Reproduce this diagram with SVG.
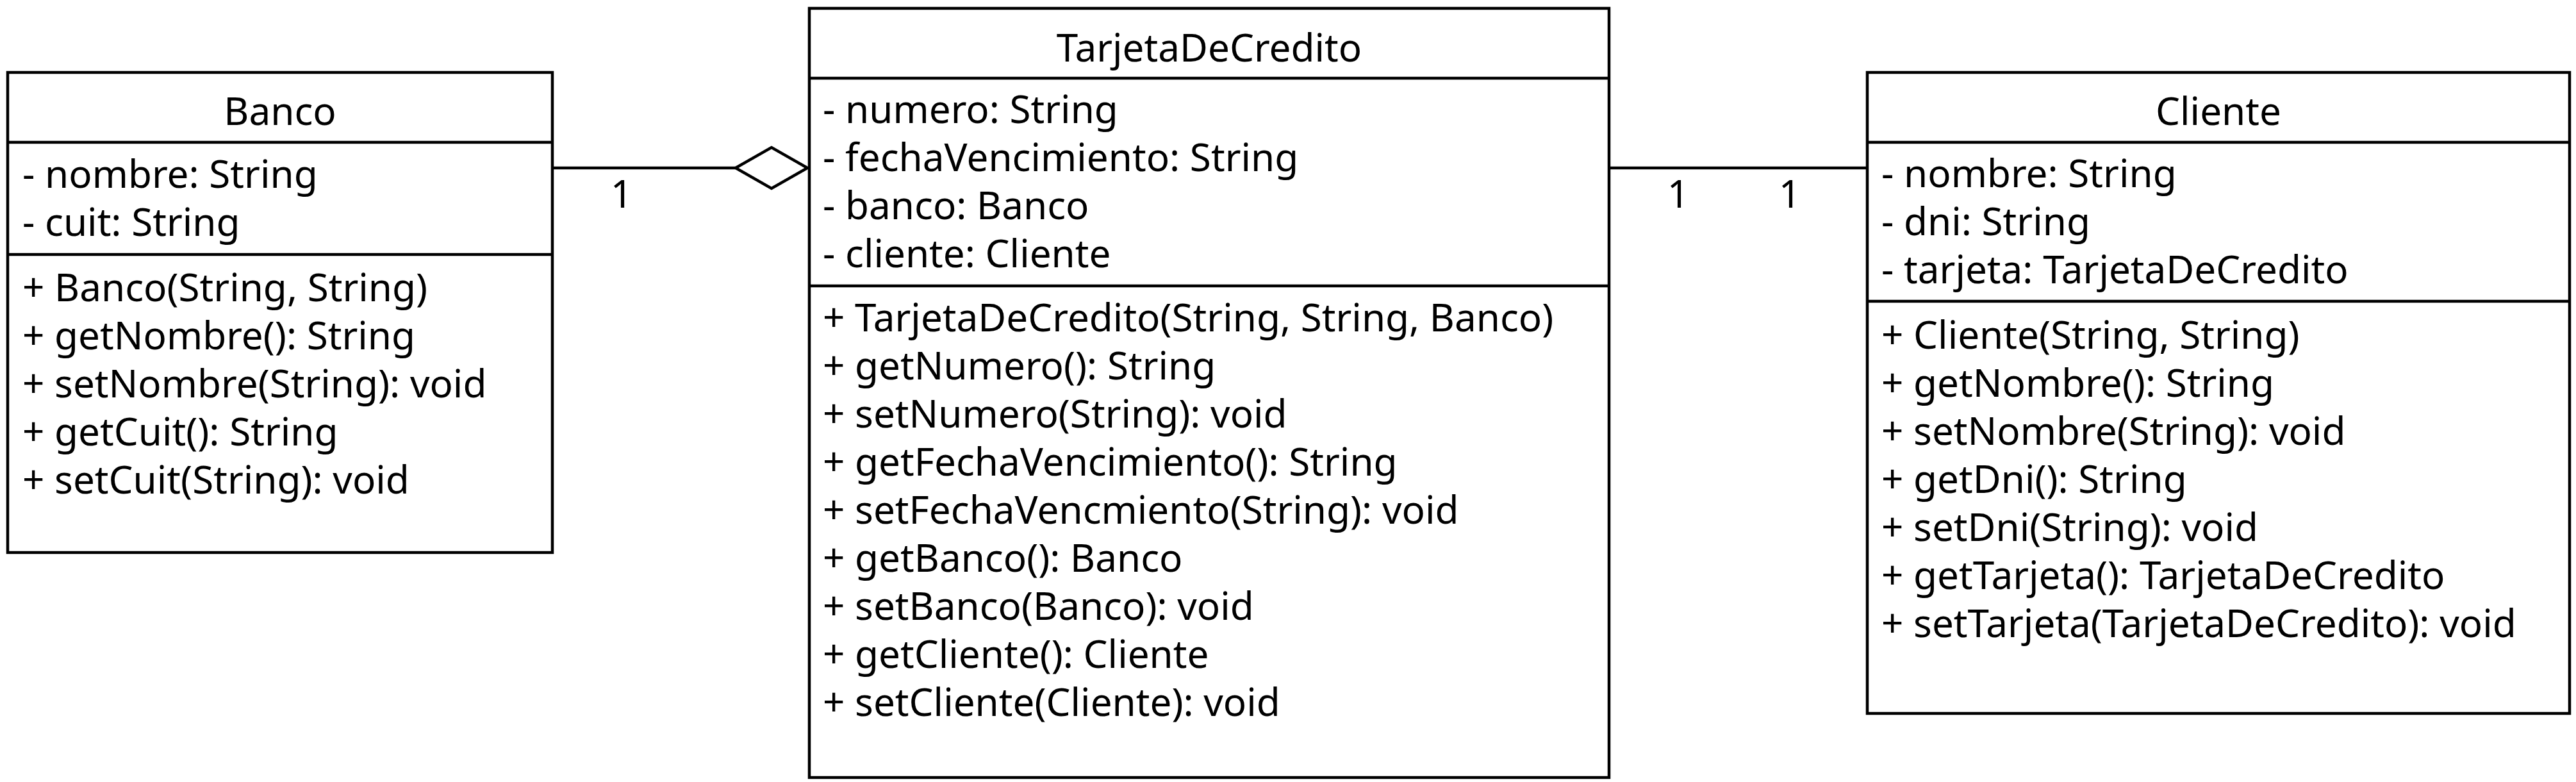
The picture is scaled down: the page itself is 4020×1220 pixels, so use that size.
<svg xmlns="http://www.w3.org/2000/svg" width="4020" height="1220" viewBox="0 0 4020 1220">
<style>
.box{fill:#fff;stroke:#000;stroke-width:4.5}
.div{stroke:#000;stroke-width:4.5}
.t{font-family:"Noto Sans",sans-serif;font-size:60.2px;fill:#000}
.c{text-anchor:middle}
.edge{stroke:#000;stroke-width:4.5;fill:none}
.dia{fill:#fff;stroke:#000;stroke-width:4.5;stroke-linejoin:miter}
</style>
<rect width="4020" height="1220" fill="#fff"/>
<g id="connectors">
<line class="edge" x1="862" y1="262" x2="1148" y2="262"/>
<polygon class="dia" points="1148,262 1204,230 1260,262 1204,294"/>
<line class="edge" x1="2511" y1="262" x2="2914" y2="262"/>
<text class="t c" x="970" y="324">1</text>
<text class="t c" x="2619" y="324">1</text>
<text class="t c" x="2793" y="324">1</text>
</g>
<g id="Banco">
<rect class="box" x="12" y="113" width="850" height="749"/>
<line class="div" x1="12" y1="222" x2="862" y2="222"/>
<line class="div" x1="12" y1="397" x2="862" y2="397"/>
<text class="t c" x="437" y="195">Banco</text>
<text class="t" x="35" y="293">- nombre: String</text>
<text class="t" x="35" y="368">- cuit: String</text>
<text class="t" x="35" y="470">+ Banco(String, String)</text>
<text class="t" x="35" y="545">+ getNombre(): String</text>
<text class="t" x="35" y="620">+ setNombre(String): void</text>
<text class="t" x="35" y="695">+ getCuit(): String</text>
<text class="t" x="35" y="770">+ setCuit(String): void</text>
</g>
<g id="TarjetaDeCredito">
<rect class="box" x="1263" y="13" width="1248" height="1200"/>
<line class="div" x1="1263" y1="122" x2="2511" y2="122"/>
<line class="div" x1="1263" y1="446" x2="2511" y2="446"/>
<text class="t c" x="1887" y="96">TarjetaDeCredito</text>
<text class="t" x="1284" y="192">- numero: String</text>
<text class="t" x="1284" y="267">- fechaVencimiento: String</text>
<text class="t" x="1284" y="342">- banco: Banco</text>
<text class="t" x="1284" y="417">- cliente: Cliente</text>
<text class="t" x="1284" y="517">+ TarjetaDeCredito(String, String, Banco)</text>
<text class="t" x="1284" y="592">+ getNumero(): String</text>
<text class="t" x="1284" y="667">+ setNumero(String): void</text>
<text class="t" x="1284" y="742">+ getFechaVencimiento(): String</text>
<text class="t" x="1284" y="817">+ setFechaVencmiento(String): void</text>
<text class="t" x="1284" y="892">+ getBanco(): Banco</text>
<text class="t" x="1284" y="967">+ setBanco(Banco): void</text>
<text class="t" x="1284" y="1042">+ getCliente(): Cliente</text>
<text class="t" x="1284" y="1117">+ setCliente(Cliente): void</text>
</g>
<g id="Cliente">
<rect class="box" x="2914" y="113" width="1096" height="1000"/>
<line class="div" x1="2914" y1="222" x2="4010" y2="222"/>
<line class="div" x1="2914" y1="470" x2="4010" y2="470"/>
<text class="t c" x="3462" y="195">Cliente</text>
<text class="t" x="2936" y="292">- nombre: String</text>
<text class="t" x="2936" y="367">- dni: String</text>
<text class="t" x="2936" y="442">- tarjeta: TarjetaDeCredito</text>
<text class="t" x="2936" y="544">+ Cliente(String, String)</text>
<text class="t" x="2936" y="619">+ getNombre(): String</text>
<text class="t" x="2936" y="694">+ setNombre(String): void</text>
<text class="t" x="2936" y="769">+ getDni(): String</text>
<text class="t" x="2936" y="844">+ setDni(String): void</text>
<text class="t" x="2936" y="919">+ getTarjeta(): TarjetaDeCredito</text>
<text class="t" x="2936" y="994">+ setTarjeta(TarjetaDeCredito): void</text>
</g>
</svg>
